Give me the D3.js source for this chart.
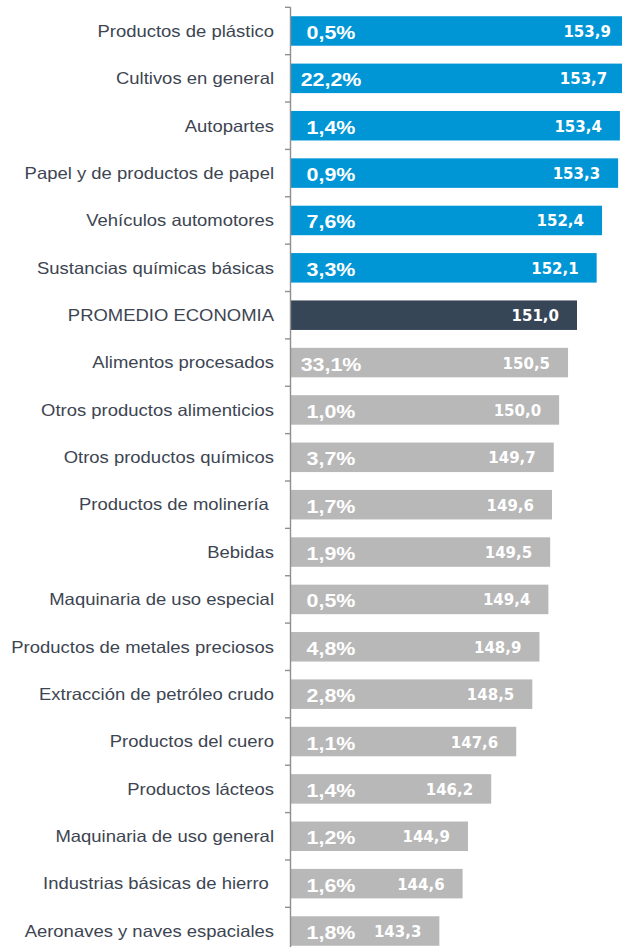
<!DOCTYPE html>
<html>
<head>
<meta charset="utf-8">
<script src="https://cdn.jsdelivr.net/npm/d3@7"></script>
<style>
  html, body { margin: 0; padding: 0; background: #fff; }
  svg { display: block; }
</style>
</head>
<body>
<svg id="chart" width="622" height="947"></svg>
<script>
const categories = [
  "Productos de plástico",
  "Cultivos en general",
  "Autopartes",
  "Papel y de productos de papel",
  "Vehículos automotores",
  "Sustancias químicas básicas",
  "PROMEDIO ECONOMIA",
  "Alimentos procesados",
  "Otros productos alimenticios",
  "Otros productos químicos",
  "Productos de molinería ",
  "Bebidas",
  "Maquinaria de uso especial",
  "Productos de metales preciosos",
  "Extracción de petróleo crudo",
  "Productos del cuero",
  "Productos lácteos",
  "Maquinaria de uso general",
  "Industrias básicas de hierro ",
  "Aeronaves y naves espaciales"
];
const values = [153.9, 153.7, 153.4, 153.3, 152.4, 152.1, 151.0, 150.5, 150.0, 149.7,
                149.6, 149.5, 149.4, 148.9, 148.5, 147.6, 146.2, 144.9, 144.6, 143.3];
const shares = ["0,5%", "22,2%", "1,4%", "0,9%", "7,6%", "3,3%", null, "33,1%", "1,0%", "3,7%",
                "1,7%", "1,9%", "0,5%", "4,8%", "2,8%", "1,1%", "1,4%", "1,2%", "1,6%", "1,8%"];
const kinds = ["above", "above", "above", "above", "above", "above", "average",
               "below", "below", "below", "below", "below", "below", "below", "below",
               "below", "below", "below", "below", "below"];

const colors = { above: "#0096d6", average: "#374656", below: "#b8b8b8" };

const rows = categories.map((c, i) => ({ cat: c, value: values[i], share: shares[i], kind: kinds[i] }));

const svg = d3.select("#chart");

const x = d3.scaleLinear().domain([135, 155]).range([291, 648.5]);
const y = d3.scaleBand().domain(categories).range([7.3, 954.7]).paddingInner(0.377).paddingOuter(0.1885);

const fmt = d3.formatLocale({ decimal: ",", thousands: ".", grouping: [3], currency: ["", ""] }).format(".1f");

// bars
svg.append("g").selectAll("rect").data(rows).join("rect")
  .attr("x", x(135))
  .attr("y", d => y(d.cat))
  .attr("width", d => x(d.value) - x(135))
  .attr("height", y.bandwidth())
  .attr("fill", d => colors[d.kind]);

// axis line and ticks at band boundaries
const axisX = x(135) - 0.5;
const half = y.step() * y.paddingInner() / 2;
const bounds = categories.map(c => y(c) - half);
const axis = svg.append("g");
axis.append("line")
  .attr("x1", axisX).attr("x2", axisX)
  .attr("y1", bounds[0]).attr("y2", y.range()[1])
  .attr("stroke", "#8f8f8f").attr("stroke-width", 1.4);
axis.selectAll("line.tick").data(bounds).join("line")
  .attr("class", "tick")
  .attr("x1", axisX - 5.5).attr("x2", axisX)
  .attr("y1", d => d).attr("y2", d => d)
  .attr("stroke", "#8f8f8f").attr("stroke-width", 1.4);

// category labels
svg.append("g").selectAll("text").data(rows).join("text")
  .attr("transform", d => `translate(274,${y(d.cat) + y.bandwidth() / 2 + 5.8}) scale(1.12,1)`)
  .attr("text-anchor", "end")
  .style("white-space", "pre")
  .attr("font-family", "'Liberation Sans', Arial, sans-serif")
  .attr("font-size", 16.5)
  .attr("fill", "#3d4552")
  .text(d => d.cat);

// share labels
svg.append("g").selectAll("text").data(rows.filter(d => d.share)).join("text")
  .attr("transform", d => `translate(${x(135) + 40},${y(d.cat) + y.bandwidth() / 2 + 8}) scale(1.19,1)`)
  .attr("text-anchor", "middle")
  .attr("font-family", "'Liberation Sans', Arial, sans-serif")
  .attr("font-weight", 700)
  .attr("font-size", 18)
  .attr("fill", "#ffffff")
  .text(d => d.share);

// value labels
svg.append("g").selectAll("text").data(rows).join("text")
  .attr("x", d => x(d.value) - 18)
  .attr("y", d => y(d.cat) + y.bandwidth() / 2 + 6)
  .attr("text-anchor", "end")
  .attr("font-family", "'DejaVu Sans', Verdana, sans-serif")
  .attr("font-weight", 700)
  .attr("font-size", 15)
  .attr("fill", "#ffffff")
  .text(d => fmt(d.value));
</script>
</body>
</html>
